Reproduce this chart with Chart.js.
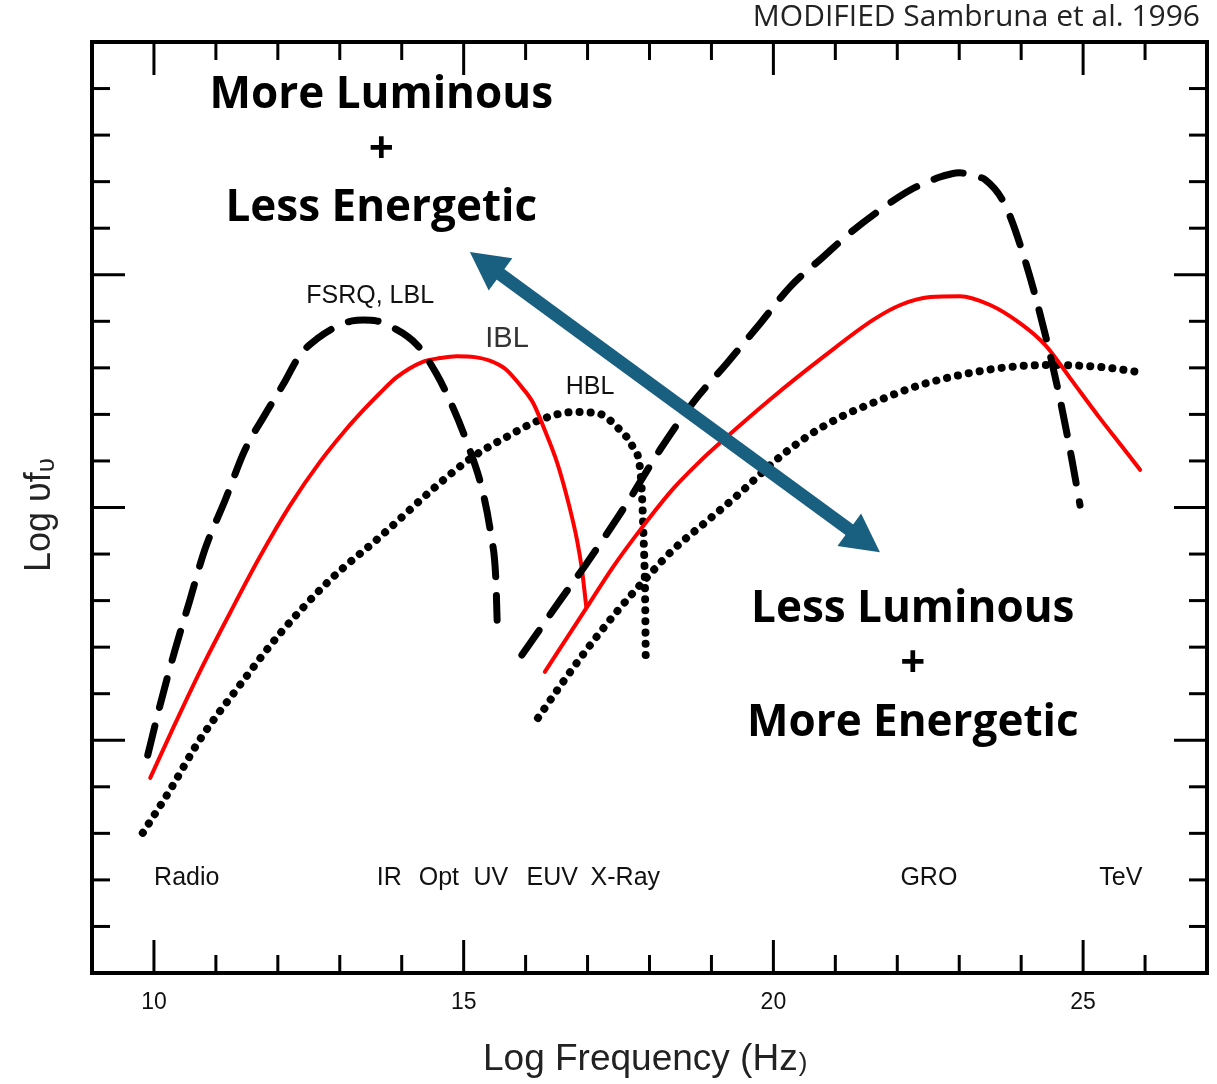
<!DOCTYPE html>
<html>
<head>
<meta charset="utf-8">
<title>Blazar sequence SED</title>
<script src="https://cdn.jsdelivr.net/npm/chart.js@4.4.1/dist/chart.umd.min.js"></script>
<style>
  html, body { margin: 0; padding: 0; background: #ffffff; }
  #sedChart { display: block; }
</style>
</head>
<body>
<canvas id="sedChart" width="1217" height="1084"></canvas>
<script>
// Log frequency (Hz) and Log nu f_nu (arbitrary units, 0..20)

// FSRQ / LBL - synchrotron hump (dashed)
const fsrqSynX = [9.90, 10.10, 10.34, 10.58, 10.82, 11.15, 11.47, 11.79, 12.08, 12.36, 12.65, 13.00, 13.20, 13.38, 13.59, 13.81, 14.25, 14.57, 14.81, 15.07, 15.30, 15.44, 15.52, 15.54];
const fsrqSynY = [4.68, 5.76, 6.94, 8.01, 9.09, 10.16, 11.24, 11.99, 12.63, 13.28, 13.64, 13.92, 14.01, 14.03, 14.01, 13.90, 13.49, 12.85, 12.20, 11.34, 10.38, 9.41, 8.44, 7.58];

// FSRQ / LBL - inverse Compton hump (dashed)
const fsrqIcX = [15.94, 16.56, 16.99, 17.64, 18.17, 18.70, 19.25, 19.79, 20.27, 20.80, 21.24, 21.72, 22.21, 22.69, 22.85, 23.01, 23.21, 23.42, 23.74, 24.06, 24.39, 24.63, 24.82, 24.95];
const fsrqIcY = [6.83, 8.01, 8.81, 10.10, 11.24, 12.25, 13.10, 13.96, 14.74, 15.38, 15.90, 16.39, 16.82, 17.10, 17.16, 17.19, 17.12, 17.04, 16.50, 15.32, 13.71, 12.31, 11.02, 10.05];

// IBL - synchrotron hump (red)
const iblSynX = [9.94, 10.34, 10.74, 11.23, 11.71, 12.20, 12.68, 13.09, 13.38, 13.65, 13.92, 14.34, 14.62, 14.89, 15.18, 15.43, 15.67, 15.91, 16.12, 16.31, 16.51, 16.68, 16.83, 16.91, 16.98];
const iblSynY = [4.19, 5.35, 6.47, 7.74, 8.94, 10.05, 10.98, 11.66, 12.09, 12.46, 12.80, 13.13, 13.21, 13.25, 13.23, 13.15, 12.98, 12.63, 12.25, 11.66, 10.96, 10.16, 9.30, 8.66, 7.86];

// IBL - inverse Compton hump (red)
const iblIcX = [16.31, 16.98, 17.41, 17.85, 18.38, 18.82, 19.19, 19.99, 20.80, 21.61, 22.05, 22.53, 23.01, 23.50, 23.98, 24.39, 24.79, 25.27, 25.60, 25.92];
const iblIcY = [6.47, 7.84, 8.72, 9.52, 10.40, 11.00, 11.45, 12.37, 13.23, 14.03, 14.35, 14.52, 14.54, 14.35, 13.96, 13.49, 12.78, 11.92, 11.36, 10.81];

// HBL - synchrotron hump (dotted)
const hblSynX = [9.82, 10.26, 10.74, 11.39, 12.04, 12.84, 13.65, 14.62, 15.15, 15.70, 16.23, 16.77, 17.15, 17.52, 17.73, 17.85, 17.88, 17.90, 17.93, 17.94];
const hblSynY = [3.01, 3.93, 5.01, 6.19, 7.30, 8.44, 9.37, 10.53, 11.09, 11.52, 11.88, 12.05, 12.03, 11.67, 11.30, 10.81, 10.23, 9.52, 8.01, 6.62];

// HBL - inverse Compton hump (dotted)
const hblIcX = [16.20, 16.56, 16.96, 17.44, 17.98, 18.38, 18.93, 19.46, 19.99, 20.54, 21.08, 21.61, 22.37, 23.18, 23.82, 24.47, 25.27, 26.00];
const hblIcY = [5.48, 6.17, 6.90, 7.71, 8.53, 9.09, 9.71, 10.31, 10.96, 11.52, 11.94, 12.25, 12.63, 12.89, 13.02, 13.06, 13.02, 12.89];

// axis ticks
const xTicks = [10, 11, 12, 13, 14, 15, 16, 17, 18, 19, 20, 21, 22, 23, 24, 25, 26];
const xMajorTicks = [10, 15, 20, 25];
const yTicks = [1, 2, 3, 4, 5, 6, 7, 8, 9, 10, 11, 12, 13, 14, 15, 16, 17, 18, 19];
const yMajorTicks = [5, 10, 15];

// band names along the bottom
const bandLabels = ["Radio", "IR", "Opt", "UV", "EUV", "X-Ray", "GRO", "TeV"];
const bandPos = [10.53, 13.80, 14.60, 15.44, 16.43, 17.61, 22.51, 25.61];

function toPoints(xs, ys) {
  return xs.map((x, i) => ({ x: x, y: ys[i] }));
}

function curve(label, xs, ys, color, width, dash) {
  return {
    label: label,
    data: toPoints(xs, ys),
    showLine: true,
    borderColor: color,
    borderWidth: width,
    borderDash: dash,
    borderCapStyle: "round",
    pointRadius: 0,
    cubicInterpolationMode: "monotone",
    fill: false,
  };
}

// inward ticks, frame, arrow and all the text
const decorPlugin = {
  id: "decor",
  afterDatasetsDraw(chart) {
    const { ctx, chartArea: a, scales } = chart;
    const x = scales.x;
    const y = scales.y;
    const line = (x1, y1, x2, y2) => {
      ctx.beginPath();
      ctx.moveTo(x1, y1);
      ctx.lineTo(x2, y2);
      ctx.stroke();
    };

    ctx.save();
    ctx.strokeStyle = "#000";
    ctx.lineCap = "butt";
    ctx.lineWidth = 3;
    xTicks.forEach((v) => {
      const px = x.getPixelForValue(v);
      const len = xMajorTicks.includes(v) ? 33 : 18;
      line(px, a.bottom, px, a.bottom - len);
      line(px, a.top, px, a.top + len);
    });
    yTicks.forEach((v) => {
      const py = y.getPixelForValue(v);
      const len = yMajorTicks.includes(v) ? 33 : 18;
      line(a.left, py, a.left + len, py);
      line(a.right, py, a.right - len, py);
    });
    ctx.lineWidth = 4;
    ctx.strokeRect(a.left, a.top, a.right - a.left, a.bottom - a.top);

    // double-headed arrow
    const p1 = { x: x.getPixelForValue(15.10), y: y.getPixelForValue(15.49) };
    const p2 = { x: x.getPixelForValue(21.72), y: y.getPixelForValue(9.04) };
    const ang = Math.atan2(p2.y - p1.y, p2.x - p1.x);
    const headLen = 38;
    const headHalf = 20;
    ctx.strokeStyle = "#195f80";
    ctx.fillStyle = "#195f80";
    ctx.lineWidth = 13;
    line(
      p1.x + Math.cos(ang) * (headLen - 4), p1.y + Math.sin(ang) * (headLen - 4),
      p2.x - Math.cos(ang) * (headLen - 4), p2.y - Math.sin(ang) * (headLen - 4)
    );
    [[p1, ang], [p2, ang + Math.PI]].forEach(([tip, dir]) => {
      const bx = tip.x + Math.cos(dir) * headLen;
      const by = tip.y + Math.sin(dir) * headLen;
      ctx.beginPath();
      ctx.moveTo(tip.x, tip.y);
      ctx.lineTo(bx - Math.sin(dir) * headHalf, by + Math.cos(dir) * headHalf);
      ctx.lineTo(bx + Math.sin(dir) * headHalf, by - Math.cos(dir) * headHalf);
      ctx.closePath();
      ctx.fill();
    });
    ctx.restore();
  },
  afterDraw(chart) {
    const { ctx, chartArea: a, scales } = chart;
    const x = scales.x;
    const y = scales.y;
    const text = (str, vx, vy, font, color) => {
      ctx.font = font;
      ctx.fillStyle = color || "#111";
      ctx.fillText(str, x.getPixelForValue(vx), y.getPixelForValue(vy));
    };

    ctx.save();
    ctx.textAlign = "center";
    ctx.textBaseline = "middle";

    // tick labels
    xMajorTicks.forEach((v) => {
      ctx.font = "23px 'Liberation Sans', Arial, sans-serif";
      ctx.fillStyle = "#111";
      ctx.fillText(String(v), x.getPixelForValue(v), a.bottom + 30);
    });

    // band labels
    bandLabels.forEach((s, i) => text(s, bandPos[i], 2.04, "25px 'Liberation Sans', Arial, sans-serif", "#111"));

    // curve labels
    text("FSRQ, LBL", 13.49, 14.54, "25px 'Liberation Sans', Arial, sans-serif", "#111");
    text("IBL", 15.70, 13.62, "29px 'Liberation Sans', Arial, sans-serif", "#333");
    text("HBL", 17.04, 12.59, "25px 'Liberation Sans', Arial, sans-serif", "#111");

    // big annotations
    const big = "bold 44px 'Open Sans', sans-serif";
    text("More Luminous", 13.67, 18.85, big, "#000");
    text("+", 13.67, 17.68, big, "#000");
    text("Less Energetic", 13.67, 16.42, big, "#000");
    text("Less Luminous", 22.25, 7.80, big, "#000");
    text("+", 22.25, 6.63, big, "#000");
    text("More Energetic", 22.25, 5.37, big, "#000");

    // source note
    ctx.textAlign = "right";
    ctx.font = "30px 'Open Sans', sans-serif";
    ctx.fillStyle = "#222";
    ctx.fillText("MODIFIED Sambruna et al. 1996", 1200, 17);

    // x axis title
    ctx.textAlign = "left";
    ctx.font = "37px 'Liberation Sans', Arial, sans-serif";
    ctx.fillStyle = "#222";
    const xt = "Log Frequency (Hz";
    const xtw = ctx.measureText(xt).width;
    const xt0 = 483;
    ctx.fillText(xt, xt0, 1060);
    ctx.font = "26px 'Liberation Sans', Arial, sans-serif";
    ctx.fillText(")", xt0 + xtw + 1, 1064);

    // y axis title, rotated
    ctx.translate(40, 515);
    ctx.rotate(-Math.PI / 2);
    ctx.font = "36px 'Liberation Sans', Arial, sans-serif";
    const yt = "Log \u03c5f";
    const ytw = ctx.measureText(yt).width;
    ctx.font = "26px 'Liberation Sans', Arial, sans-serif";
    const subw = ctx.measureText("\u03c5").width;
    const start = -(ytw + subw) / 2;
    ctx.font = "36px 'Liberation Sans', Arial, sans-serif";
    ctx.fillText(yt, start, 0);
    ctx.font = "26px 'Liberation Sans', Arial, sans-serif";
    ctx.fillText("\u03c5", start + ytw, 7);
    ctx.restore();
  },
};

const ctx = document.getElementById("sedChart").getContext("2d");
new Chart(ctx, {
  type: "scatter",
  data: {
    datasets: [
      curve("FSRQ, LBL synchrotron", fsrqSynX, fsrqSynY, "#000000", 7, [30, 19]),
      curve("FSRQ, LBL inverse Compton", fsrqIcX, fsrqIcY, "#000000", 7, [30, 19]),
      curve("IBL synchrotron", iblSynX, iblSynY, "#ff0000", 4, []),
      curve("IBL inverse Compton", iblIcX, iblIcY, "#ff0000", 4, []),
      curve("HBL synchrotron", hblSynX, hblSynY, "#000000", 8, [0.1, 11]),
      curve("HBL inverse Compton", hblIcX, hblIcY, "#000000", 8, [0.1, 11]),
    ],
  },
  options: {
    responsive: false,
    animation: false,
    devicePixelRatio: 1,
    layout: {
      padding: { left: 92, top: 42, right: 10, bottom: 111 },
    },
    plugins: {
      legend: { display: false },
      tooltip: { enabled: false },
    },
    scales: {
      x: { type: "linear", min: 9, max: 27, display: false },
      y: { type: "linear", min: 0, max: 20, display: false },
    },
  },
  plugins: [decorPlugin],
});
</script>
</body>
</html>
